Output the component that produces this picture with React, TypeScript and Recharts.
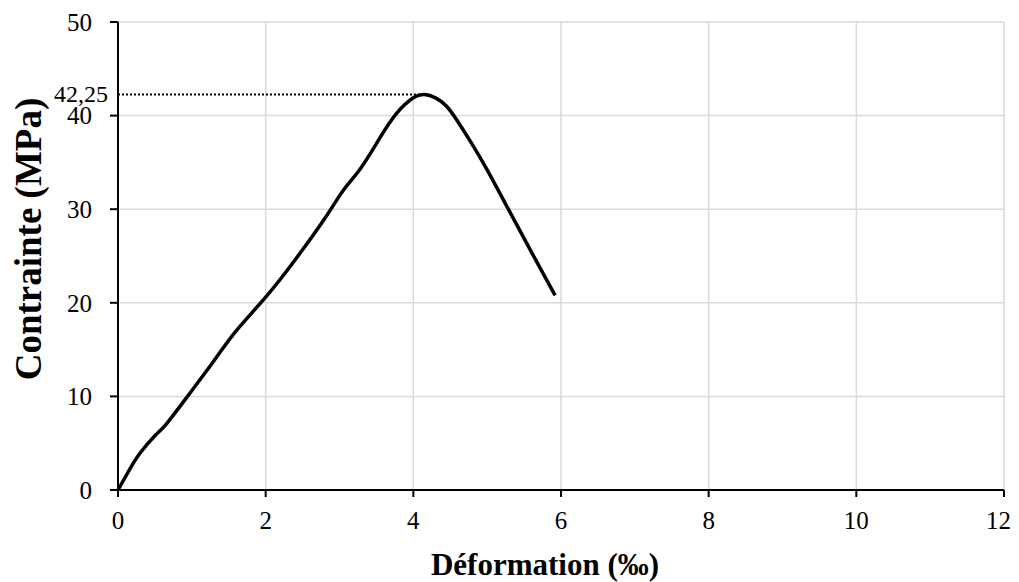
import React from 'react';
import { LineChart, Line, XAxis, YAxis, CartesianGrid, ReferenceLine } from 'recharts';

// strain (‰) and stress (MPa)
const strain = [0, 0.15, 0.3, 0.5, 0.66, 0.97, 1.3, 1.6, 2.0, 2.4, 2.8, 3.05, 3.28, 3.53, 3.77, 4.0, 4.15, 4.3, 4.45, 4.6, 4.8, 5.0, 5.26, 5.58, 5.92];
const stress = [0, 2.1, 3.95, 5.8, 7.1, 10.3, 13.8, 17.0, 20.6, 24.6, 29.0, 32.0, 34.3, 37.4, 40.2, 41.9, 42.25, 41.9, 41.0, 39.4, 36.9, 34.2, 30.4, 25.7, 20.8];

const xTicks = [0, 2, 4, 6, 8, 10, 12];
const yTicks = [0, 10, 20, 30, 40, 50];
const peakStress = 42.25;
const peakLabel = '42,25';
const peakLineEnd = 4.2;

const data = strain.map((x, i) => ({ x, y: stress[i] }));

const font = '"Liberation Serif", "Times New Roman", serif';
const tickStyle = { fontSize: 25, fill: '#000', fontFamily: font };
const titleStyle = { fontSize: 31, fontWeight: 700, fill: '#000', fontFamily: font };

const YTitle = ({ viewBox }: any) => {
  const cx = viewBox.x + 20;
  const cy = viewBox.y + viewBox.height / 2 - 17;
  return (
    <text x={cx} y={cy} transform={`rotate(-90, ${cx}, ${cy})`} textAnchor="middle" dominantBaseline="central" style={{ ...titleStyle, fontSize: 37 }}>
      Contrainte (MPa)
    </text>
  );
};

const XTitle = ({ viewBox }: any) => {
  const cx = viewBox.x + viewBox.width / 2 - 16;
  const cy = viewBox.y + 85;
  return (
    <text x={cx} y={cy} textAnchor="middle" style={titleStyle}>
      Déformation (‰)
    </text>
  );
};

const PeakLabel = ({ viewBox }: any) => (
  <text x={viewBox.x - 10} y={viewBox.y - 1} textAnchor="end" dominantBaseline="central" style={{ fontSize: 24, fill: '#000', fontFamily: font }}>
    {peakLabel}
  </text>
);

export default function App() {
  return (
    <div style={{ width: 1003, height: 574 }}>
      <LineChart width={1003} height={574} data={data} margin={{ top: 14, right: 7, left: 0, bottom: 0 }}>
        <CartesianGrid stroke="#d9d9d9" strokeWidth={1.5} />
        <XAxis
          type="number"
          dataKey="x"
          domain={[0, 12]}
          ticks={xTicks}
          height={92}
          tick={tickStyle}
          tickSize={7}
          tickMargin={14}
          axisLine={{ stroke: '#000', strokeWidth: 2 }}
          tickLine={{ stroke: '#000', strokeWidth: 2 }}
          label={<XTitle />}
        />
        <YAxis
          type="number"
          domain={[0, 50]}
          ticks={yTicks}
          width={110}
          tick={tickStyle}
          tickSize={8}
          tickMargin={18}
          axisLine={{ stroke: '#000', strokeWidth: 2 }}
          tickLine={{ stroke: '#000', strokeWidth: 2 }}
          label={<YTitle />}
        />
        <ReferenceLine
          segment={[{ x: 0, y: peakStress }, { x: peakLineEnd, y: peakStress }]}
          stroke="#000"
          strokeWidth={2}
          strokeDasharray="2 2"
          label={<PeakLabel />}
        />
        <Line
          type="natural"
          dataKey="y"
          stroke="#000"
          strokeWidth={3.5}
          dot={false}
          isAnimationActive={false}
        />
      </LineChart>
    </div>
  );
}
